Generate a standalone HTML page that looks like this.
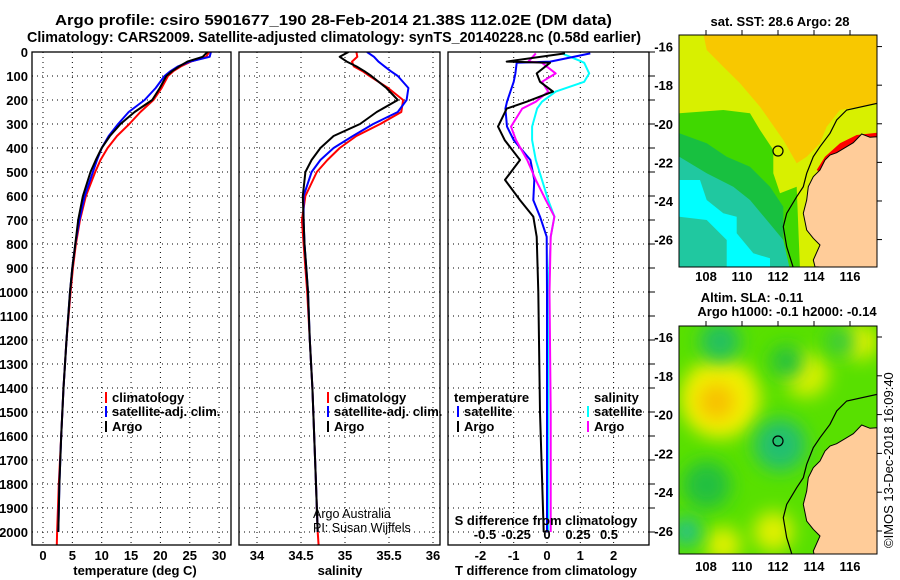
<!DOCTYPE html>
<html><head><meta charset="utf-8">
<style>
body{margin:0;background:#fff;}
svg{display:block;font-family:"Liberation Sans",sans-serif;}
.b{font-weight:bold;font-size:13px;}
.t{font-weight:bold;font-size:15px;}
</style></head>
<body>
<svg id="fig" width="900" height="580" viewBox="0 0 900 580">
<defs>
<clipPath id="c1"><rect x="32" y="52" width="199" height="493"/></clipPath>
<clipPath id="c2"><rect x="239" y="52" width="201" height="493"/></clipPath>
<clipPath id="c3"><rect x="448" y="52" width="201" height="493"/></clipPath>
<clipPath id="m1"><rect x="679" y="35" width="198" height="232"/></clipPath>
<clipPath id="m2"><rect x="679" y="326" width="198" height="228"/></clipPath>
<filter id="bl" x="-50%" y="-50%" width="200%" height="200%"><feGaussianBlur stdDeviation="9"/></filter>
</defs>
<text class="t" x="55" y="25" textLength="557" lengthAdjust="spacingAndGlyphs">Argo profile: csiro 5901677_190 28-Feb-2014 21.38S 112.02E (DM data)</text>
<text class="t" x="27" y="42" textLength="614" lengthAdjust="spacingAndGlyphs">Climatology: CARS2009. Satellite-adjusted climatology: synTS_20140228.nc (0.58d earlier)</text>
<g id="grids"></g>
<g id="lines"></g>
<g id="frames" fill="none" stroke="#000" stroke-width="1.3">
<rect x="32" y="52" width="199" height="493"/>
<rect x="239" y="52" width="201" height="493"/>
<rect x="448" y="52" width="201" height="493"/>
</g>
<g id="labels" class="b"></g>
<text class="b" x="135" y="575" text-anchor="middle">temperature (deg C)</text>
<text class="b" x="340" y="575" text-anchor="middle">salinity</text>
<text class="b" x="546" y="575" text-anchor="middle">T difference from climatology</text>
<text class="b" x="546" y="525" text-anchor="middle">S difference from climatology</text>
<text x="313" y="518" font-size="12.5">Argo Australia</text>
<text x="313" y="532" font-size="12.5">PI: Susan Wijffels</text>
<g id="legends" class="b"></g>
<g id="map1" clip-path="url(#m1)"></g>
<g id="map2" clip-path="url(#m2)"></g>
<rect x="679" y="35" width="198" height="232" fill="none" stroke="#000"/>
<rect x="679" y="326" width="198" height="228" fill="none" stroke="#000"/>
<g id="maplabels" class="b"></g>
<text class="b" x="780" y="26" text-anchor="middle">sat. SST: 28.6 Argo: 28</text>
<text class="b" x="752" y="302" text-anchor="middle">Altim. SLA: -0.11</text>
<text class="b" x="787" y="316" text-anchor="middle">Argo h1000: -0.1 h2000: -0.14</text>
<text font-size="13" transform="translate(893,548) rotate(-90)">©IMOS 13-Dec-2018 16:09:40</text>
</svg>
<script>
const depths = [0,20,40,60,80,100,150,200,250,300,350,400,450,500,600,700,800,900,1000,1200,1400,1600,1800,2000];
const tempArgo = [28.0,27.2,24.6,23.2,22.0,21.0,19.9,18.6,15.6,13.2,11.4,10.0,9.0,8.1,6.8,6.0,5.5,5.0,4.6,4.0,3.5,3.1,2.8,2.6];
const tempClim = [28.3,27.8,25.2,23.5,22.2,21.3,20.2,18.8,16.6,14.7,12.6,11.0,9.8,8.9,7.3,6.3,5.6,5.1,4.7,4.0,3.5,3.1,2.7,2.4];
const tempSat  = [28.6,28.4,25.0,23.0,21.7,20.7,19.2,17.3,14.6,12.8,11.2,10.0,9.2,8.5,7.1,6.2,5.5,5.0,4.6,4.0,3.5,3.1,2.8,2.6];
const salArgo = [35.04,34.94,35.02,35.13,35.22,35.3,35.47,35.6,35.36,35.17,34.87,34.72,34.62,34.55,34.52,34.53,34.54,34.56,34.58,34.6,34.63,34.65,34.67,34.69];
const salClim = [35.13,35.14,35.08,35.1,35.2,35.28,35.49,35.66,35.64,35.40,35.13,34.94,34.80,34.68,34.55,34.51,34.53,34.55,34.57,34.6,34.63,34.65,34.67,34.69];
const salSat  = [35.25,35.33,35.38,35.45,35.52,35.6,35.72,35.7,35.6,35.32,35.09,34.87,34.72,34.62,34.53,34.53,34.54,34.56,34.58,34.6,34.63,34.65,34.67,34.69];
const dDepths = [6,40,45,89,124,165,207,236,311,367,450,533,617,686,770,1000,1500,2000];
const tdiffArgo = [0.54,-1.21,0.09,-0.31,-0.21,0.18,-0.61,-1.21,-1.47,-1.27,-0.81,-1.26,-0.81,-0.41,-0.31,-0.26,-0.21,-0.1];
const tdiffSat  = [1.3,0.1,-0.91,-0.95,-1.0,-1.1,-1.2,-1.25,-1.2,-1.0,-0.5,-0.38,-0.41,-0.21,-0.01,0.0,0.0,0.0];
const sdiffArgo = [-0.09,-0.15,-0.04,0.07,-0.04,0.01,-0.09,-0.2,-0.29,-0.25,-0.16,-0.09,-0.01,0.06,0.03,0.02,0.03,0.03];
const sdiffSat  = [0.12,0.28,0.3,0.34,0.3,0.07,-0.04,-0.08,-0.12,-0.12,-0.09,-0.04,0.01,0.06,0.03,0.01,0.01,0.01];
const depthTicks = [0,100,200,300,400,500,600,700,800,900,1000,1100,1200,1300,1400,1500,1600,1700,1800,1900,2000];
const tTicks = [0,5,10,15,20,25,30];
const sTicks = [34,34.5,35,35.5,36];
const sTickLabels = ["34","34.5","35","35.5","36"];
const dtTicks = [-2,-1,0,1,2];
const dsTicks = [-0.5,-0.25,0,0.25,0.5];
const latTicks = [-16,-18,-20,-22,-24,-26];
const lonTicks = [108,110,112,114,116];
const yD = d => 52 + d*0.24;
const xT = v => 43 + v*5.87;
const xS = v => 257 + (v-34)*88;
const xDT = v => 547 + v*33.3;
const xDS = v => 547 + v*124;
const lonX = l => 679 + (l-106.5)*18;
const latY1 = l => 35 + (-15.4-l)*19.3;
const latY2 = l => 337 + (-16-l)*19.4;
const NS='http://www.w3.org/2000/svg';
function mk(tag, attrs, parent){const e=document.createElementNS(NS,tag);for(const k in attrs)e.setAttribute(k,attrs[k]);parent.appendChild(e);return e;}
const G=document.getElementById('grids'),L=document.getElementById('lines'),LB=document.getElementById('labels'),LG=document.getElementById('legends');
const panels=[[32,231,tTicks,xT],[239,440,sTicks,xS],[448,649,dtTicks,xDT]];
panels.forEach(([x0,x1,ticks,f],pi)=>{
  depthTicks.forEach(d=>{ if(d>0){
    const l=mk('line',{x1:x0,x2:x1,y1:yD(d),y2:yD(d),stroke:'#000','stroke-dasharray':'1,4'},G);
    
    }});
  ticks.forEach(v=>{
    const l=mk('line',{x1:f(v),x2:f(v),y1:52,y2:545,stroke:'#000','stroke-dasharray':'1,4'},G);
    
    });
});
depthTicks.forEach(d=>{
  const t=mk('text',{x:28,y:yD(d)+5,'text-anchor':'end'},LB);t.textContent=d;
  
  
  const k=mk('line',{x1:649,x2:655,y1:yD(d),y2:yD(d),stroke:'#000'},LB);
  
  
});
tTicks.forEach(v=>{const t=mk('text',{x:xT(v),y:560,'text-anchor':'middle'},LB);t.textContent=v;
  
  });
sTicks.forEach((v,i)=>{const t=mk('text',{x:xS(v),y:560,'text-anchor':'middle'},LB);t.textContent=sTickLabels[i];
  
  });
dtTicks.forEach(v=>{const t=mk('text',{x:xDT(v),y:560,'text-anchor':'middle'},LB);t.textContent=v;
  
  });
dsTicks.forEach(v=>{const t=mk('text',{x:xDS(v),y:539,'text-anchor':'middle'},LB);t.textContent=v;
  
  });
function line(ds,vals,f,col,clip,name){
  const pts=vals.map((v,i)=>f(v).toFixed(1)+','+yD(ds[i]).toFixed(1)).join(' ');
  const p=mk('polyline',{points:pts,fill:'none',stroke:col,'stroke-width':2,'stroke-linejoin':'round','clip-path':'url(#'+clip+')'},L);
  
  
}
const dRed=depths.concat([2054]);
line(dRed,tempClim.concat([2.35]),xT,'#ff0000','c1','temperature-climatology-line');
line(depths,tempSat,xT,'#0000ff','c1','temperature-satellite-line');
line(depths,tempArgo,xT,'#000','c1','temperature-argo-line');
line(dRed,salClim.concat([34.7]),xS,'#ff0000','c2','salinity-climatology-line');
line(depths,salSat,xS,'#0000ff','c2','salinity-satellite-line');
line(depths,salArgo,xS,'#000','c2','salinity-argo-line');
line(dDepths,sdiffSat,xDS,'#00ffff','c3','s-diff-satellite-line');
line(dDepths,tdiffSat,xDT,'#0000ff','c3','t-diff-satellite-line');
line(dDepths,sdiffArgo,xDS,'#ff00ff','c3','s-diff-argo-line');
line(dDepths,tdiffArgo,xDT,'#000','c3','t-diff-argo-line');
function leg(x,y,col,txt,name,tick){
  if(tick){const m=mk('line',{x1:x,x2:x,y1:y-10,y2:y+1,stroke:col,'stroke-width':2},LG);
    
    }
  const t=mk('text',{x:x+6,y:y},LG);t.textContent=txt;
  
  
}
leg(106,402,'#f00','climatology','legend-climatology',1);
leg(106,416,'#00f','satellite-adj. clim.','legend-satellite-adj',1);
leg(106,431,'#000','Argo','legend-argo',1);
leg(328,402,'#f00','climatology','legend2-climatology',1);
leg(328,416,'#00f','satellite-adj. clim.','legend2-satellite-adj',1);
leg(328,431,'#000','Argo','legend2-argo',1);
leg(448,402,'#000','temperature','legend3-temperature',0);
leg(458,416,'#00f','satellite','legend3-t-satellite',1);
leg(458,431,'#000','Argo','legend3-t-argo',1);
leg(588,402,'#000','salinity','legend3-salinity',0);
leg(588,416,'#0ff','satellite','legend3-s-satellite',1);
leg(588,431,'#f0f','Argo','legend3-s-argo',1);
const ML=document.getElementById('maplabels');
latTicks.forEach(v=>{
  [[latY1,'lat-tick-map1'],[latY2,'lat-tick-map2']].forEach(([f,n])=>{
    const t=mk('text',{x:673,y:f(v)+5,'text-anchor':'end'},ML);t.textContent=v;
    
    
    mk('line',{x1:877,x2:882,y1:f(v),y2:f(v),stroke:'#000'},ML);
  });
});
lonTicks.forEach(v=>{
  [[281,35,267],[571,326,554]].forEach(([ty,top,bot],i)=>{
    const t=mk('text',{x:lonX(v),y:ty,'text-anchor':'middle'},ML);t.textContent=v;
    
    
    mk('line',{x1:lonX(v),x2:lonX(v),y1:top-5,y2:top,stroke:'#000'},ML);
  });
});
const Z=(a,off)=>a.map(p=>(640+p[0]/3).toFixed(1)+','+(p[1]/3+off).toFixed(1)).join(' ');
const land=[[712,410],[690,412],[665,402],[640,428],[620,440],[590,458],[570,465],[555,480],[540,510],[520,530],[505,560],[500,600],[490,640],[500,690],[520,715],[540,735],[520,780],[525,800],[712,810]];
const contour=[[712,310],[620,330],[590,360],[570,400],[540,440],[520,470],[500,520],[490,560],[470,590],[440,640],[430,680],[440,740],[462,810]];
const M1=document.getElementById('map1');
mk('rect',{x:679,y:35,width:198,height:232,fill:'#d8f000'},M1);
mk('polygon',{points:Z([[190,100],[715,100],[715,310],[600,330],[560,380],[540,430],[500,470],[470,490],[430,420],[360,320],[300,250],[250,200],[200,150]],0),fill:'#f8c800'},M1);
mk('polygon',{points:Z([[118,340],[250,330],[330,340],[360,390],[400,450],[400,520],[420,580],[470,560],[480,810],[118,810]],0),fill:'#40d800'},M1);
mk('polygon',{points:Z([[118,400],[200,430],[260,470],[330,500],[390,560],[430,620],[430,810],[118,810]],0),fill:'#18c040'},M1);
mk('polygon',{points:Z([[118,470],[200,520],[280,560],[330,600],[380,660],[430,720],[450,810],[118,810]],0),fill:'#20c8a0'},M1);
mk('polygon',{points:Z([[118,540],[180,540],[200,600],[250,640],[290,650],[290,700],[340,760],[390,775],[390,810],[118,810]],0),fill:'#00ffff'},M1);
mk('polygon',{points:Z([[118,650],[200,660],[260,720],[260,810],[118,810]],0),fill:'#20c8a0'},M1);
mk('polygon',{points:Z([[555,470],[600,430],[650,405],[712,398],[712,415],[640,430],[600,462],[560,482],[545,520],[530,510]],0),fill:'#ff0000'},M1);
mk('polygon',{points:Z(land,0),fill:'#ffcc99',stroke:'#000','stroke-width':1},M1);
mk('polyline',{points:Z(contour,0),fill:'none',stroke:'#000','stroke-width':1.2},M1);
const c1=mk('circle',{cx:778,cy:151,r:5,fill:'none',stroke:'#000','stroke-width':1.2},M1);


const M2=document.getElementById('map2');
mk('rect',{x:679,y:326,width:198,height:228,fill:'#58e000'},M2);
const blobs=[[240,340,40,'#f0f000'],[230,350,18,'#f8c000'],[500,270,22,'#d8f000'],[400,740,20,'#e0f000'],[250,780,18,'#e0f000'],[660,170,18,'#e0f000'],
[240,170,20,'#20c060'],[440,230,16,'#20c040'],[200,600,24,'#20c040'],[420,480,26,'#20c070'],[140,740,14,'#20c090'],[600,170,14,'#30c840']];
blobs.forEach(b=>{mk('circle',{cx:640+b[0]/3,cy:285+b[1]/3,r:b[2],fill:b[3],filter:'url(#bl)'},M2);});
mk('polygon',{points:Z(land,291),fill:'#ffcc99',stroke:'#000','stroke-width':1},M2);
mk('polyline',{points:Z(contour,291),fill:'none',stroke:'#000','stroke-width':1.2},M2);
const c2=mk('circle',{cx:778,cy:441,r:5,fill:'none',stroke:'#000','stroke-width':1.2},M2);


</script>
</body></html>
